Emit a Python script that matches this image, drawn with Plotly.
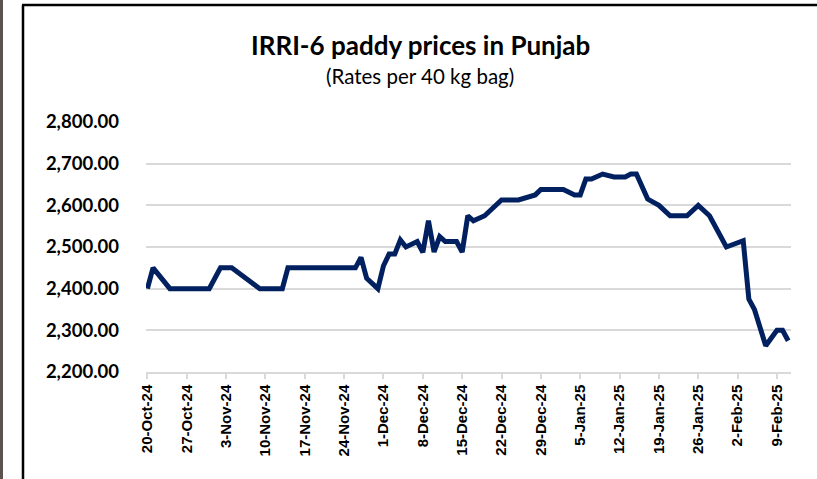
import plotly.graph_objects as go

dates = ["2024-10-20", "2024-10-21", "2024-10-24", "2024-10-31", "2024-11-02", "2024-11-04",
         "2024-11-09", "2024-11-13", "2024-11-14", "2024-11-26", "2024-11-27", "2024-11-28",
         "2024-11-30", "2024-12-01", "2024-12-02", "2024-12-03", "2024-12-04", "2024-12-05",
         "2024-12-07", "2024-12-08", "2024-12-09", "2024-12-10", "2024-12-11", "2024-12-12",
         "2024-12-14", "2024-12-15", "2024-12-16", "2024-12-17", "2024-12-19", "2024-12-22",
         "2024-12-25", "2024-12-28", "2024-12-29", "2025-01-02", "2025-01-04", "2025-01-05",
         "2025-01-06", "2025-01-07", "2025-01-09", "2025-01-11", "2025-01-13", "2025-01-14",
         "2025-01-15", "2025-01-17", "2025-01-19", "2025-01-21", "2025-01-24", "2025-01-26",
         "2025-01-28", "2025-01-31", "2025-02-03", "2025-02-04", "2025-02-05", "2025-02-07",
         "2025-02-09", "2025-02-10", "2025-02-11"]
prices = [2400, 2450, 2400, 2400, 2450, 2450,
          2400, 2400, 2450, 2450, 2475, 2425,
          2400, 2455, 2483, 2483, 2517, 2500,
          2513, 2487, 2563, 2488, 2525, 2513,
          2513, 2488, 2575, 2563, 2575, 2613,
          2613, 2625, 2638, 2638, 2625, 2625,
          2663, 2663, 2675, 2668, 2668, 2675,
          2675, 2615, 2600, 2575, 2575, 2600,
          2575, 2500, 2515, 2375, 2350, 2263,
          2300, 2300, 2275]

tick_dates = ["2024-10-20", "2024-10-27", "2024-11-03", "2024-11-10", "2024-11-17", "2024-11-24",
              "2024-12-01", "2024-12-08", "2024-12-15", "2024-12-22", "2024-12-29", "2025-01-05",
              "2025-01-12", "2025-01-19", "2025-01-26", "2025-02-02", "2025-02-09"]
tick_labels = ["20-Oct-24", "27-Oct-24", "3-Nov-24", "10-Nov-24", "17-Nov-24", "24-Nov-24",
               "1-Dec-24", "8-Dec-24", "15-Dec-24", "22-Dec-24", "29-Dec-24", "5-Jan-25",
               "12-Jan-25", "19-Jan-25", "26-Jan-25", "2-Feb-25", "9-Feb-25"]
y_ticks = [2200, 2300, 2400, 2500, 2600, 2700, 2800]

title_text = "IRRI-6 paddy prices in Punjab"
subtitle_text = "(Rates per 40 kg bag)"

W, H = 817, 479
L, T = 146, 122
R = W - 791
B = H - 372
pw, ph = W - L - R, H - T - B


def px(x):
    return (x - L) / pw


def py(y):
    return (H - B - y) / ph


fig = go.Figure()
fig.add_trace(go.Scatter(x=dates, y=prices, mode="lines",
                         line=dict(color="#002060", width=5), hoverinfo="x+y",
                         cliponaxis=False))

fig.update_layout(
    width=W, height=H,
    margin=dict(l=L, r=R, t=T, b=B),
    paper_bgcolor="white", plot_bgcolor="white",
    showlegend=False,
    xaxis=dict(type="date", range=["2024-10-19 18:00", "2025-02-11 12:00"],
               tickvals=tick_dates, ticktext=tick_labels, tickangle=-90,
               tickfont=dict(family="Liberation Sans", size=15, color="black", weight="bold"),
               showgrid=False, showline=True, linecolor="#d9d9d9", linewidth=1.5,
               ticks="outside", ticklen=5, tickcolor="#d9d9d9", tickwidth=1.5,
               zeroline=False),
    yaxis=dict(range=[2200, 2800], tickvals=y_ticks, tickformat=",.2f",
               tickfont=dict(family="Lato", size=18.5, color="black", weight="bold"),
               showgrid=True, gridcolor="#d9d9d9", gridwidth=1.5,
               showline=False, zeroline=False, ticks="", ticklabelstandoff=26),
    annotations=[
        dict(text="<b>" + title_text + "</b>", x=px(420), y=py(45), xref="paper", yref="paper",
             showarrow=False, xanchor="center", yanchor="middle",
             font=dict(family="Lato", size=26, color="black")),
        dict(text=subtitle_text, x=px(420), y=py(76), xref="paper", yref="paper",
             showarrow=False, xanchor="center", yanchor="middle",
             font=dict(family="Lato", size=20.5, color="black")),
    ],
    shapes=[
        dict(type="rect", xref="paper", yref="paper", x0=px(0), x1=px(3), y0=py(H + 20), y1=py(-20),
             fillcolor="#5a5350", line=dict(width=0), layer="above"),
        dict(type="line", xref="paper", yref="paper", x0=px(23), x1=px(23), y0=py(5), y1=py(H + 20),
             line=dict(color="black", width=2.5)),
        dict(type="line", xref="paper", yref="paper", x0=px(22), x1=px(W + 20), y0=py(5), y1=py(5),
             line=dict(color="black", width=2.5)),
    ],
)

fig.write_html("out.html", config={"displayModeBar": False},
               post_script="document.body.style.margin='0';document.body.style.overflow='hidden';")
